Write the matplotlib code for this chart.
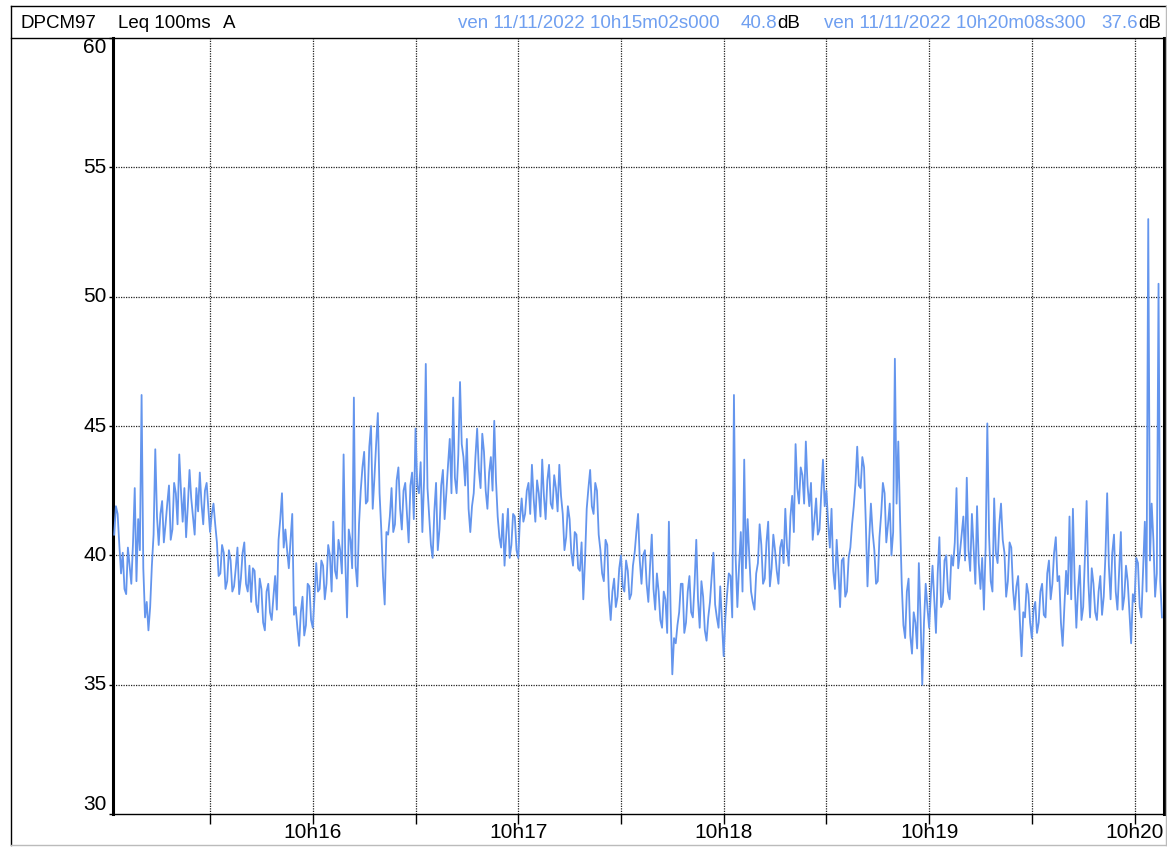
import numpy as np
import matplotlib
matplotlib.use("Agg")
import matplotlib.pyplot as plt
from matplotlib.lines import Line2D

plt.rcParams['font.family'] = ['Liberation Sans', 'DejaVu Sans']

# Leq 100 ms (A), values at whole seconds after 10h15m02s
level_db = [
    40.8, 41.6, 39.3, 38.7, 40.3, 38.9, 42.6, 41.4, 46.2, 37.6,
    37.1, 39.6, 44.1, 40.4, 42.1, 41.2, 42.7, 41.0, 42.4, 43.9,
    41.3, 40.7, 43.3, 41.5, 42.6, 43.2, 41.2, 42.8, 40.9, 42.0,
    40.5, 39.3, 40.1, 39.0, 39.8, 38.8, 40.3, 39.1, 40.5, 38.6,
    38.2, 39.4, 37.8, 38.7, 37.1, 38.9, 37.5, 39.2, 40.6, 42.4,
    41.0, 39.5, 41.6, 38.0, 36.5, 38.4, 37.3, 38.8, 37.2, 39.7,
    38.7, 39.6, 38.9, 40.0, 41.3, 39.1, 40.2, 43.9, 37.6, 40.6,
    46.1, 38.8, 42.5, 44.0, 42.1, 45.0, 43.0, 45.5, 41.0, 38.1,
    40.8, 42.6, 41.2, 43.4, 41.0, 42.8, 40.5, 43.2, 44.9, 42.4,
    40.9, 47.4, 41.5, 39.9, 42.8, 41.0, 43.3, 42.4, 44.5, 46.1,
    42.4, 46.7, 43.8, 44.5, 40.9, 42.4, 44.9, 42.6, 44.0, 41.8,
    43.8, 45.2, 41.5, 40.3, 39.6, 41.8, 40.4, 41.5, 39.9, 42.2,
    41.6, 42.8, 43.5, 41.3, 42.4, 43.7, 41.4, 43.5, 41.8, 42.6,
    43.5, 41.6, 40.7, 41.4, 39.6, 40.8, 39.4, 38.3, 41.8, 43.3,
    41.6, 42.5, 40.2, 39.0, 40.4, 37.5, 39.1, 38.4, 40.0, 38.6,
    39.4, 38.5, 40.1, 41.6, 38.9, 40.2, 38.2, 40.8, 37.9, 38.6,
    37.2, 38.3, 41.3, 35.4, 36.6, 37.8, 38.9, 37.4, 39.2, 37.6,
    40.6, 37.2, 38.4, 36.7, 38.2, 40.1, 37.6, 38.8, 36.1, 38.5,
    39.2, 46.2, 38.0, 40.9, 43.7, 41.4, 38.6, 37.9, 39.7, 40.4,
    39.1, 41.3, 39.5, 40.2, 38.9, 40.6, 41.8, 39.6, 42.3, 44.3,
    42.0, 43.1, 44.4, 41.9, 40.6, 42.2, 41.0, 43.7, 42.5, 40.3,
    39.4, 40.6, 38.0, 39.9, 38.6, 40.3, 41.9, 44.2, 42.6, 43.4,
    38.8, 42.0, 40.2, 39.0, 41.6, 42.4, 41.2, 40.0, 47.6, 44.4,
    38.9, 36.8, 39.1, 36.2, 37.4, 39.7, 35.0, 38.9, 37.2, 39.6,
    37.0, 40.7, 38.2, 40.0, 38.3, 39.6, 42.6, 40.1, 41.5, 43.0,
    39.4, 40.3, 41.9, 38.7, 37.9, 45.1, 39.0, 42.2, 39.7, 42.0,
    40.1, 39.0, 40.3, 37.9, 39.2, 36.1, 37.6, 38.5, 36.8, 38.2,
    37.4, 38.9, 37.6, 39.8, 38.9, 40.7, 39.2, 36.5, 39.4, 41.5,
    41.8, 37.2, 39.6, 38.0, 42.1, 37.6, 38.9, 37.5, 39.2, 38.4,
    42.4, 38.3, 40.8, 37.9, 40.9, 38.4, 39.0, 36.6, 38.2, 39.7,
    37.6, 41.3, 53.0, 42.0, 38.4, 50.5, 37.6,
]

# values read at the half seconds (t + 0.5 s)
level_db_half = [
    41.9, 40.4, 40.1, 38.5, 39.6, 40.5, 39.0, 40.2, 39.5, 38.2,
    38.0, 40.8, 41.5, 41.6, 40.5, 42.0, 40.6, 42.8, 41.2, 42.5,
    42.6, 41.9, 42.2, 40.8, 41.7, 42.0, 42.5, 41.8, 41.6, 41.2,
    39.2, 40.4, 38.7, 40.2, 38.6, 39.5, 38.5, 40.1, 38.9, 39.6,
    39.5, 38.1, 39.1, 37.4, 38.6, 37.8, 38.4, 37.9, 41.4, 40.3,
    40.2, 40.6, 37.7, 37.2, 37.8, 36.9, 38.9, 37.5, 38.4, 38.6,
    39.8, 38.3, 40.4, 38.6, 39.4, 40.6, 39.3, 39.8, 41.0, 39.5,
    39.6, 41.2, 43.4, 42.0, 44.2, 41.8, 44.3, 42.4, 39.2, 40.9,
    41.5, 40.9, 42.9, 41.8, 42.5, 41.6, 42.7, 41.4, 42.7, 43.6,
    42.9, 42.6, 40.4, 41.7, 40.2, 42.7, 41.4, 43.5, 42.4, 43.0,
    43.9, 44.3, 42.7, 41.8, 41.9, 43.8, 43.3, 44.7, 42.5, 43.2,
    42.5, 42.9, 40.7, 41.6, 40.8, 39.9, 41.6, 40.2, 41.4, 41.3,
    42.5, 41.6, 42.2, 42.9, 41.5, 42.3, 42.9, 42.0, 43.1, 41.7,
    42.3, 40.2, 41.9, 40.1, 40.9, 39.5, 40.5, 39.8, 42.6, 41.9,
    42.8, 40.8, 39.3, 40.6, 38.4, 38.6, 38.0, 39.5, 38.8, 39.8,
    38.3, 39.6, 40.9, 39.8, 40.0, 38.9, 39.6, 38.7, 39.3, 37.5,
    38.6, 37.0, 37.9, 36.8, 37.3, 38.9, 37.0, 38.6, 37.8, 38.9,
    38.3, 39.0, 37.1, 37.6, 39.2, 38.1, 37.2, 37.4, 37.6, 39.3,
    37.6, 39.9, 39.6, 38.6, 39.5, 39.9, 38.2, 39.3, 41.2, 38.9,
    40.5, 38.8, 40.8, 39.4, 40.3, 39.7, 40.3, 41.5, 40.9, 42.6,
    43.4, 42.0, 42.7, 42.8, 41.4, 40.8, 42.4, 41.9, 41.3, 41.8,
    38.7, 39.4, 39.8, 38.4, 39.9, 41.2, 42.8, 42.7, 43.8, 41.3,
    40.6, 40.9, 38.9, 40.7, 42.8, 40.5, 42.0, 40.9, 42.0, 41.5,
    37.3, 38.6, 36.9, 37.8, 36.4, 37.6, 37.4, 38.0, 38.5, 38.3,
    39.3, 38.0, 39.8, 38.6, 40.0, 40.5, 39.5, 40.8, 39.8, 40.2,
    41.6, 38.9, 39.7, 39.9, 40.3, 40.8, 38.6, 40.1, 41.2, 40.6,
    38.4, 40.5, 38.7, 38.8, 37.5, 37.8, 38.9, 37.4, 37.9, 37.0,
    38.6, 37.7, 39.3, 38.3, 40.1, 39.0, 37.4, 38.0, 38.5, 38.3,
    39.0, 38.7, 37.5, 39.9, 39.0, 39.5, 37.8, 38.6, 37.7, 40.0,
    39.6, 40.1, 38.6, 39.4, 37.9, 39.6, 37.8, 38.5, 39.9, 38.0,
    39.5, 38.6, 39.8, 40.6, 39.3, 39.0,
]

y_ticks = [30, 35, 40, 45, 50, 55, 60]
x_grid_s = [28, 58, 88, 118, 148, 178, 208, 238, 268, 298]   # every 30 s
x_label_s = [58, 118, 178, 238, 298]
x_labels = ["10h16", "10h17", "10h18", "10h19", "10h20"]

header_left = ["DPCM97", "Leq 100ms", "A"]
cursor1 = ("ven 11/11/2022 10h15m02s000", "40.8")
cursor2 = ("ven 11/11/2022 10h20m08s300", "37.6")

# interleave whole- and half-second readings
t_whole = np.arange(len(level_db), dtype=float)
t_half = np.arange(len(level_db_half), dtype=float) + 0.5
t_all = np.concatenate([t_whole, t_half])
v_all = np.concatenate([np.array(level_db), np.array(level_db_half)])
order = np.argsort(t_all, kind='stable')
t_all, v_all = t_all[order], v_all[order]

W, H = 1167, 847
fig = plt.figure(figsize=(W / 100, H / 100), dpi=100)
fig.patch.set_facecolor('white')

def fx(px):
    return px / W

def fy(py):
    return 1 - py / H

ax = fig.add_axes([fx(113), fy(814), fx(1164) - fx(113), fy(38) - fy(814)])
line_col = '#6495ED'
ax.plot(t_all, v_all, color=line_col, lw=1.3, zorder=3)

ax.set_xlim(-0.35, 306.6)
ax.set_ylim(30, 60)

grid_kw = dict(color='#222222', lw=0.9, ls=(0, (1, 1)), zorder=1)
for s in x_grid_s:
    ax.axvline(s, **grid_kw)
for v in y_ticks[1:-1]:
    ax.axhline(v, **grid_kw)

ax.set_xticks(x_grid_s)
ax.set_xticklabels([""] * len(x_grid_s))
ax.tick_params(axis='x', direction='out', length=7, width=1, color='black')
for s, lab in zip(x_label_s, x_labels):
    ax.text(s, -0.012, lab, transform=ax.get_xaxis_transform(), ha='center',
            va='top', fontsize=15)

ax.set_yticks(y_ticks)
ax.set_yticklabels([""] * len(y_ticks))
ax.tick_params(axis='y', direction='out', length=3, width=1, color='black')
for v in y_ticks:
    va = 'center'
    if v == 60:
        va = 'top'
    elif v == 30:
        va = 'bottom'
    ax.text(-0.006, v, str(v), transform=ax.get_yaxis_transform(), ha='right',
            va=va, fontsize=15)

for side in ['top', 'bottom']:
    ax.spines[side].set_linewidth(1.0)
ax.spines['left'].set_linewidth(2.2)
ax.spines['right'].set_linewidth(2.2)

# outer frame and header separator
def fline(x0, y0, x1, y1, color='black', lw=1.0):
    fig.add_artist(Line2D([fx(x0), fx(x1)], [fy(y0), fy(y1)], color=color,
                          lw=lw, transform=fig.transFigure))

fline(11, 6, 1166, 6)
fline(11, 6, 11, 845)
fline(1166, 6, 1166, 845, color='#bbbbbb')
fline(11, 845, 1166, 845, color='#bbbbbb')
fline(11, 38, 113, 38)

hy = fy(23)
fs_head = 13.5
fig.text(fx(21), hy, header_left[0], fontsize=fs_head, va='center', ha='left')
fig.text(fx(118), hy, header_left[1], fontsize=fs_head, va='center', ha='left')
fig.text(fx(223), hy, header_left[2], fontsize=fs_head, va='center', ha='left')

head_blue = '#6f9ff0'
fig.text(fx(458), hy, cursor1[0], fontsize=fs_head, va='center', ha='left', color=head_blue)
fig.text(fx(777), hy, cursor1[1], fontsize=fs_head, va='center', ha='right', color=head_blue)
fig.text(fx(777), hy, "dB", fontsize=fs_head, va='center', ha='left', color='black')
fig.text(fx(824), hy, cursor2[0], fontsize=fs_head, va='center', ha='left', color=head_blue)
fig.text(fx(1138), hy, cursor2[1], fontsize=fs_head, va='center', ha='right', color=head_blue)
fig.text(fx(1138), hy, "dB", fontsize=fs_head, va='center', ha='left', color='black')

fig.savefig("out.png", dpi=100)
